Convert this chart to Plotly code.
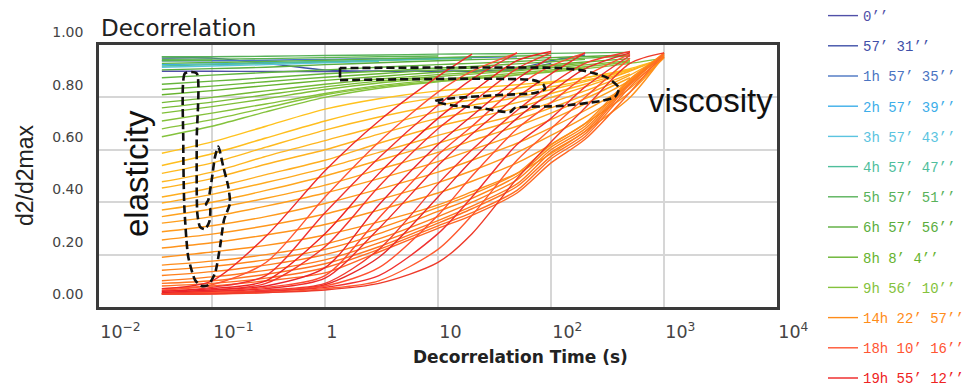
import plotly.graph_objects as go

# ---------------- data ----------------
# shared decorrelation-time grid (s)
X = [0.036, 0.1, 0.3, 1, 3, 10, 20, 50, 100, 200, 500, 1000]

legend_labels = ["0’’", "57’ 31’’", "1h 57’ 35’’", "2h 57’ 39’’", "3h 57’ 43’’",
                 "4h 57’ 47’’", "5h 57’ 51’’", "6h 57’ 56’’", "8h 8’ 4’’",
                 "9h 56’ 10’’", "14h 22’ 57’’", "18h 10’ 16’’", "19h 55’ 12’’"]
legend_colors = ["#5050a8", "#3f50a8", "#4a74c2", "#3daee9", "#5bc4e0", "#4fbe9c",
                 "#58b25a", "#5aad3c", "#66b32e", "#84c23c", "#ff8c1a", "#ff5533", "#ee2222"]

# early (blue) curves, hidden mostly under the green ones
blue_curves = [
    [0.90, 0.90, 0.899, 0.899, 0.90, 0.90, 0.90, 0.905, 0.93],
    [0.95, 0.95, 0.93, 0.905, 0.90, 0.90, 0.90, 0.91, 0.94, 0.962],
    [0.94, 0.94, 0.942, 0.945, 0.948, 0.95, 0.952, 0.955],
    [0.925, 0.928, 0.932, 0.937, 0.942, 0.948],
    [0.915, 0.92, 0.925, 0.932, 0.938],
    [0.92, 0.925, 0.93, 0.936, 0.941, 0.946, 0.95],
]
blue_label_idx = [0, 1, 2, 3, 4, 5]

green_curves = [
    [0.955, 0.955],
    [0.94, 0.942],
    [0.955, 0.955, 0.957, 0.96, 0.962, 0.965, 0.966, 0.967, 0.968, 0.97, 0.972],
    [0.945, 0.946, 0.948, 0.952, 0.955, 0.958],
    [0.93, 0.933, 0.937, 0.942, 0.947, 0.952, 0.955, 0.958, 0.96],
    [0.905, 0.91, 0.915, 0.925, 0.932, 0.94, 0.944, 0.948, 0.952, 0.956, 0.962],
    [0.875, 0.885, 0.895, 0.905, 0.915, 0.925, 0.93, 0.937, 0.944, 0.95, 0.958],
    [0.85, 0.862, 0.875, 0.89, 0.90, 0.912, 0.918, 0.928, 0.936, 0.945],
    [0.83, 0.843, 0.86, 0.877, 0.89, 0.905, 0.912],
    [0.81, 0.826, 0.845, 0.865, 0.88, 0.896, 0.903, 0.915, 0.925, 0.935, 0.948],
    [0.78, 0.80, 0.825, 0.85, 0.87, 0.887, 0.895, 0.908, 0.92, 0.93],
    [0.76, 0.782, 0.81, 0.84, 0.862, 0.88, 0.889, 0.902, 0.913, 0.924, 0.94],
    [0.74, 0.765, 0.795, 0.83, 0.855, 0.875],
    [0.71, 0.74, 0.775, 0.815, 0.845, 0.868, 0.878, 0.893, 0.905, 0.917, 0.935],
    [0.68, 0.715, 0.76, 0.81, 0.84, 0.862, 0.872, 0.887, 0.90, 0.912],
    [0.65, 0.69, 0.745, 0.80, 0.835, 0.86, 0.87, 0.885, 0.897, 0.91, 0.93, 0.95],
]
green_colors = ["#52b04a", "#55b24c", "#58b25a", "#5ab44f", "#5cb548", "#5aad3c", "#62b43f",
                "#66b53b", "#6ab738", "#66b32e", "#74ba35", "#79bc36", "#7fbf38", "#84c13a",
                "#88c33c", "#84c23c"]
green_label_idx = [None, None, 6, None, None, 7, None, None, None, 8, None, None, None, None, None, 9]

orange_curves = [
    [0.587, 0.63, 0.69, 0.755, 0.795, 0.825, 0.835, 0.848, 0.86, 0.875, 0.905],
    [0.54, 0.585, 0.645, 0.71, 0.76, 0.80, 0.815, 0.835, 0.855, 0.875, 0.91, 0.95],
    [0.51, 0.55, 0.61, 0.675, 0.725, 0.77, 0.79, 0.815, 0.84, 0.865, 0.905],
    [0.478, 0.515, 0.575, 0.635, 0.69, 0.745, 0.77, 0.80, 0.83, 0.86, 0.905, 0.95],
    [0.454, 0.49, 0.545, 0.60, 0.66, 0.72, 0.745, 0.78, 0.815, 0.85, 0.90],
    [0.42, 0.455, 0.505, 0.56, 0.625, 0.69, 0.72, 0.76, 0.80, 0.84, 0.90, 0.955],
    [0.397, 0.43, 0.475, 0.53, 0.59, 0.655, 0.69, 0.735, 0.78, 0.825, 0.89],
    [0.37, 0.40, 0.445, 0.50, 0.56, 0.625, 0.665, 0.715, 0.76, 0.81, 0.885, 0.96],
    [0.345, 0.375, 0.415, 0.465, 0.525, 0.59, 0.635, 0.69, 0.74, 0.795, 0.875],
    [0.32, 0.345, 0.385, 0.435, 0.49, 0.555, 0.60, 0.66, 0.715, 0.775, 0.865, 0.96],
    [0.287, 0.31, 0.345, 0.395, 0.45, 0.515, 0.56, 0.625, 0.685, 0.75, 0.85, 0.955],
    [0.256, 0.278, 0.31, 0.355, 0.41, 0.475, 0.52, 0.59, 0.655, 0.725, 0.835, 0.95],
    [0.225, 0.245, 0.275, 0.315, 0.37, 0.435, 0.48, 0.55, 0.62, 0.70, 0.82, 0.955],
    [0.19, 0.21, 0.235, 0.275, 0.325, 0.39, 0.44, 0.51, 0.585, 0.67, 0.80, 0.96],
]
orange_colors = ["#ffc21e", "#ffbe1e", "#ffba1e", "#ffb61e", "#ffb21e", "#ffae1e", "#ffaa1d",
                 "#ffa61d", "#ffa21d", "#ff9e1c", "#ff9a1c", "#ff971c", "#ff941c", "#ff911b"]

dark_orange_curves = [
    [0.16, 0.175, 0.20, 0.24, 0.30, 0.38, 0.43, 0.51, 0.62, 0.70, 0.87, 0.965],
    [0.14, 0.155, 0.18, 0.22, 0.28, 0.365, 0.415, 0.50, 0.61, 0.69, 0.865, 0.96],
    [0.12, 0.135, 0.16, 0.20, 0.26, 0.345, 0.40, 0.485, 0.60, 0.68, 0.86, 0.97],
    [0.10, 0.115, 0.14, 0.18, 0.245, 0.33, 0.385, 0.47, 0.59, 0.67, 0.855, 0.96],
    [0.09, 0.10, 0.125, 0.165, 0.23, 0.32, 0.375, 0.46, 0.575, 0.66, 0.85, 0.965],
    [0.08, 0.09, 0.11, 0.15, 0.22, 0.31, 0.36, 0.445, 0.565, 0.65, 0.84, 0.955],
    [0.07, 0.08, 0.10, 0.13, 0.21, 0.30, 0.35, 0.435, 0.55, 0.64, 0.82, 0.97],
]
dark_orange_colors = ["#ff8c1a", "#ff861a", "#ff801c", "#ff7a1e", "#ff7420", "#ff6e22", "#ff6824"]
dark_orange_label_idx = [10, None, None, None, None, None, None]

red_curves = [
    [0.07, 0.10, 0.27, 0.52, 0.71, 0.88, 0.965],
    [0.065, 0.085, 0.17, 0.42, 0.63, 0.82, 0.90, 0.97],
    [0.06, 0.075, 0.12, 0.36, 0.57, 0.77, 0.87, 0.97],
    [0.06, 0.07, 0.10, 0.28, 0.51, 0.72, 0.82, 0.94, 0.975],
    [0.055, 0.065, 0.09, 0.23, 0.46, 0.68, 0.78, 0.91, 0.97],
    [0.055, 0.065, 0.08, 0.15, 0.39, 0.62, 0.73, 0.87, 0.955],
    [0.05, 0.06, 0.075, 0.12, 0.34, 0.58, 0.69, 0.84, 0.92, 0.97],
    [0.05, 0.06, 0.07, 0.11, 0.30, 0.54, 0.66, 0.80, 0.89, 0.97],
    [0.05, 0.055, 0.065, 0.09, 0.22, 0.47, 0.60, 0.75, 0.85, 0.93, 0.975],
    [0.05, 0.055, 0.06, 0.085, 0.19, 0.42, 0.56, 0.72, 0.82, 0.91, 0.97],
    [0.05, 0.055, 0.06, 0.08, 0.15, 0.35, 0.50, 0.68, 0.78, 0.88, 0.965],
    [0.05, 0.05, 0.06, 0.075, 0.12, 0.28, 0.42, 0.62, 0.72, 0.84, 0.96],
    [0.05, 0.05, 0.055, 0.07, 0.10, 0.22, 0.35, 0.56, 0.68, 0.80, 0.95],
    [0.05, 0.05, 0.055, 0.065, 0.09, 0.17, 0.28, 0.49, 0.63, 0.76, 0.93, 0.97],
]
red_colors = ["#ee2a2a", "#ff5533", "#f03030", "#ee2222", "#f4352c", "#e8222a", "#ff4a30",
              "#ee2a2a", "#f23a2e", "#e82828", "#ff5030", "#f03030", "#ff5a2e", "#ee3a2a"]
red_label_idx = [None, 11, None, 12, None, None, None, None, None, None, None, None, None, None]

# dashed annotation outlines (s, d2/d2max)
elasticity_x = [0.0732, 0.0577, 0.0557, 0.0569, 0.0616, 0.0708, 0.0811, 0.0927, 0.1064, 0.1178,
                0.1277, 0.1442, 0.1393, 0.1259, 0.1137, 0.1064, 0.0994, 0.0927, 0.0885, 0.0961,
                0.0947, 0.0867, 0.0783, 0.0741, 0.0732, 0.0732]
elasticity_y = [0.892, 0.892, 0.637, 0.383, 0.192, 0.103, 0.080, 0.084, 0.129, 0.230,
                0.332, 0.396, 0.459, 0.535, 0.612, 0.574, 0.485, 0.408, 0.393, 0.377,
                0.326, 0.297, 0.306, 0.358, 0.637, 0.892]
viscosity_x = [1.358, 69.3, 84.9, 88.5, 72.2, 35.4, 19.2, 11.5, 9.40, 12.8, 23.5, 43.4, 48.0,
               120, 272, 368, 400, 319, 200, 120, 1.358]
viscosity_y = [0.866, 0.866, 0.851, 0.832, 0.817, 0.809, 0.802, 0.794, 0.786, 0.771, 0.760,
               0.744, 0.760, 0.767, 0.786, 0.802, 0.836, 0.874, 0.901, 0.912, 0.912]
tick_x = [1.358, 1.358]
tick_y = [0.914, 0.876]

# ---------------- figure ----------------
fig = go.Figure()


def add_curve(ys, color, label_idx=None):
    xs = X[:len(ys)]
    tr = dict(x=xs, y=ys, mode="lines", hoverinfo="skip",
              line=dict(color=color, width=1.4, shape="spline", smoothing=0.8))
    if label_idx is None:
        tr.update(showlegend=False)
    else:
        tr.update(showlegend=True, legendgroup="g%02d" % label_idx, legendrank=label_idx + 1,
                  name='<span style="color:%s">%s</span>' % (legend_colors[label_idx],
                                                            legend_labels[label_idx]))
        tr["line"]["color"] = legend_colors[label_idx]
    fig.add_trace(go.Scatter(**tr))


for ys, li in zip(blue_curves, blue_label_idx):
    add_curve(ys, legend_colors[li], li)
for ys, c, li in zip(green_curves, green_colors, green_label_idx):
    add_curve(ys, c, li)
for ys, c in zip(orange_curves, orange_colors):
    add_curve(ys, c)
for ys, c, li in zip(dark_orange_curves, dark_orange_colors, dark_orange_label_idx):
    add_curve(ys, c, li)
for ys, c, li in zip(red_curves, red_colors, red_label_idx):
    add_curve(ys, c, li)

dash_line = dict(color="#111111", width=2.6, dash="8px,4px", shape="spline", smoothing=0.6)
fig.add_trace(go.Scatter(x=elasticity_x, y=elasticity_y, mode="lines", line=dash_line,
                         showlegend=False, hoverinfo="skip"))
fig.add_trace(go.Scatter(x=viscosity_x, y=viscosity_y, mode="lines", line=dash_line,
                         showlegend=False, hoverinfo="skip"))
fig.add_trace(go.Scatter(x=tick_x, y=tick_y, mode="lines", line=dict(color="#111111", width=2.6),
                         showlegend=False, hoverinfo="skip"))

tick_font = dict(family="DejaVu Sans", size=14, color="#444444")

fig.update_layout(
    width=964, height=388,
    margin=dict(l=99, r=187, t=45, b=81, autoexpand=False),
    paper_bgcolor="white", plot_bgcolor="white",
    showlegend=True,
    legend=dict(xref="container", yref="container", x=823 / 964, y=1.0,
                xanchor="left", yanchor="top", traceorder="grouped", maxheight=600,
                tracegroupgap=9, itemwidth=30, bgcolor="rgba(0,0,0,0)",
                font=dict(family="Liberation Mono", size=14, color="#444444")),
    xaxis=dict(type="log", range=[-2, 4], dtick=1, exponentformat="power",
               showgrid=True, gridcolor="#d6d6d6", gridwidth=1.5,
               showline=True, linecolor="#3a3a3a", linewidth=2.5, mirror=True,
               ticks="", tickfont=tick_font, ticklabelposition="outside right",
               ticklabelstandoff=8, zeroline=False, automargin=False),
    yaxis=dict(range=[0, 1], dtick=0.2, tickformat=".2f",
               showgrid=True, gridcolor="#d6d6d6", gridwidth=1.5,
               showline=True, linecolor="#3a3a3a", linewidth=2.5, mirror=True,
               ticks="", tickfont=tick_font, ticklabelposition="outside top",
               ticklabelstandoff=10, ticklabelshift=-3, zeroline=False, automargin=False),
    annotations=[
        dict(text="Decorrelation", xref="paper", yref="paper", x=0.0, y=(307 - 28) / 262,
             xanchor="left", yanchor="middle", showarrow=False,
             font=dict(family="DejaVu Sans", size=23, color="#222222")),
        dict(text="Decorrelation Time (s)", xref="paper", yref="paper", x=(520 - 99) / 678,
             y=(307 - 357) / 262, xanchor="center", yanchor="middle", showarrow=False,
             font=dict(family="DejaVu Sans", size=17, color="#222222", weight="bold")),
        dict(text="d2/d2max", xref="paper", yref="paper", x=(25 - 99) / 678,
             y=(307 - 175) / 262, textangle=-90, xanchor="center", yanchor="middle",
             showarrow=False, font=dict(family="Liberation Sans", size=23, color="#222222")),
        dict(text="elasticity", xref="paper", yref="paper", x=(136 - 99) / 678,
             y=(307 - 174) / 262, textangle=-90, xanchor="center", yanchor="middle",
             showarrow=False, font=dict(family="Liberation Sans", size=33, color="#111111")),
        dict(text="viscosity", xref="paper", yref="paper", x=(710 - 99) / 678,
             y=(307 - 100) / 262, xanchor="center", yanchor="middle",
             showarrow=False, font=dict(family="Liberation Sans", size=33, color="#111111")),
    ],
)

fig.write_html("out.html")
